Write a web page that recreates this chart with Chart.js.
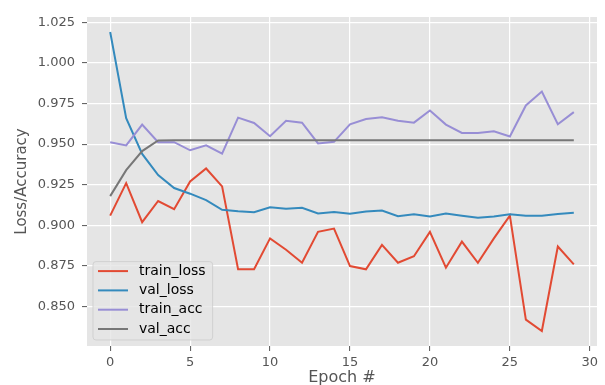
<!DOCTYPE html>
<html>
<head>
<meta charset="utf-8">
<script src="https://cdn.jsdelivr.net/npm/chart.js@4.4.1/dist/chart.umd.min.js"></script>
<style>
  html, body { margin: 0; padding: 0; background: #ffffff; }
  #wrap { width: 605px; height: 385px; position: relative; }
</style>
</head>
<body>
<div id="wrap"><canvas id="lossChart"></canvas></div>
<script>
// values
var epochs = [0, 1, 2, 3, 4, 5, 6, 7, 8, 9, 10, 11, 12, 13, 14, 15, 16, 17, 18, 19, 20, 21, 22, 23, 24, 25, 26, 27, 28, 29];
var trainLoss = [0.906, 0.926, 0.902, 0.915, 0.910, 0.927, 0.935, 0.924, 0.873, 0.873, 0.892, 0.885, 0.877, 0.896, 0.898, 0.875, 0.873, 0.888, 0.877, 0.881, 0.896, 0.874, 0.890, 0.877, 0.892, 0.906, 0.842, 0.835, 0.887, 0.876];
var valLoss = [1.019, 0.966, 0.944, 0.931, 0.923, 0.9195, 0.9155, 0.9096, 0.9087, 0.9081, 0.9112, 0.9102, 0.9108, 0.9073, 0.9083, 0.9071, 0.9085, 0.9091, 0.9057, 0.9069, 0.9055, 0.9073, 0.9059, 0.9047, 0.9055, 0.9069, 0.9059, 0.9059, 0.907, 0.9077];
var trainAcc = [0.9512, 0.9492, 0.962, 0.9512, 0.9512, 0.9462, 0.9492, 0.9441, 0.9663, 0.963, 0.9549, 0.9644, 0.9632, 0.9504, 0.9514, 0.9622, 0.9654, 0.9665, 0.9644, 0.9632, 0.9707, 0.962, 0.9569, 0.9569, 0.9579, 0.9547, 0.9738, 0.9823, 0.9622, 0.9697];
var valAcc = [0.918, 0.934, 0.9457, 0.9522, 0.9524, 0.9524, 0.9524, 0.9524, 0.9524, 0.9524, 0.9524, 0.9524, 0.9524, 0.9524, 0.9524, 0.9524, 0.9524, 0.9524, 0.9524, 0.9524, 0.9524, 0.9524, 0.9524, 0.9524, 0.9524, 0.9524, 0.9524, 0.9524, 0.9524, 0.9524];
var seriesNames = ["train_loss", "val_loss", "train_acc", "val_acc"];
var xTicks = [0, 5, 10, 15, 20, 25, 30];
var yTicks = [0.850, 0.875, 0.900, 0.925, 0.950, 0.975, 1.000, 1.025];

var FONT = "'DejaVu Sans', sans-serif";
var TEXT = "#555555";

function pts(vals) {
  return epochs.map(function (e, i) { return { x: e, y: vals[i] }; });
}

// matplotlib-like 5% margins
var allY = trainLoss.concat(valLoss, trainAcc, valAcc);
var yMin = Math.min.apply(null, allY), yMax = Math.max.apply(null, allY);
var yPad = (yMax - yMin) * 0.05;
var xPad = (epochs[epochs.length - 1] - epochs[0]) * 0.05;

var plotBg = {
  id: "plotBg",
  beforeDraw: function (chart) {
    var a = chart.chartArea, ctx = chart.ctx;
    ctx.save();
    ctx.fillStyle = "#e5e5e5";
    ctx.fillRect(a.left, a.top, a.right - a.left, a.bottom - a.top);
    ctx.restore();
  }
};

function roundRect(ctx, x, y, w, h, r) {
  ctx.beginPath();
  ctx.moveTo(x + r, y);
  ctx.lineTo(x + w - r, y);
  ctx.quadraticCurveTo(x + w, y, x + w, y + r);
  ctx.lineTo(x + w, y + h - r);
  ctx.quadraticCurveTo(x + w, y + h, x + w - r, y + h);
  ctx.lineTo(x + r, y + h);
  ctx.quadraticCurveTo(x, y + h, x, y + h - r);
  ctx.lineTo(x, y + r);
  ctx.quadraticCurveTo(x, y, x + r, y);
  ctx.closePath();
}

// legend box in the lower left corner of the plot, like plt.legend(loc="lower left")
var innerLegend = {
  id: "innerLegend",
  afterDatasetsDraw: function (chart) {
    var ctx = chart.ctx, a = chart.chartArea;
    var sets = chart.data.datasets;
    ctx.save();
    ctx.font = "14px " + FONT;
    var maxW = 0;
    sets.forEach(function (d) { maxW = Math.max(maxW, ctx.measureText(d.label).width); });
    var pad = 5, handle = 30, gap = 11, row = 19.3;
    var w = pad + handle + gap + maxW + 7;
    var h = 9.5 + row * (sets.length - 1) + 11;
    var x = a.left + 6, y = a.bottom - 6 - h;
    roundRect(ctx, x, y, w, h, 3);
    ctx.fillStyle = "rgba(229,229,229,0.8)";
    ctx.fill();
    ctx.strokeStyle = "rgba(204,204,204,0.8)";
    ctx.lineWidth = 1;
    ctx.stroke();
    ctx.textBaseline = "middle";
    ctx.textAlign = "left";
    sets.forEach(function (d, i) {
      var cy = y + 9.5 + i * row;
      ctx.strokeStyle = d.borderColor;
      ctx.lineWidth = 2;
      ctx.beginPath();
      ctx.moveTo(x + pad, cy);
      ctx.lineTo(x + pad + handle, cy);
      ctx.stroke();
      ctx.fillStyle = "#000000";
      ctx.fillText(d.label, x + pad + handle + gap, cy);
    });
    ctx.restore();
  }
};

var colors = ["#E24A33", "#348ABD", "#988ED5", "#777777"];
var series = [trainLoss, valLoss, trainAcc, valAcc];

var ctx = document.getElementById("lossChart").getContext("2d");
var lossChart = new Chart(ctx, {
  type: "line",
  data: {
    datasets: series.map(function (vals, i) {
      return {
        label: seriesNames[i],
        data: pts(vals),
        borderColor: colors[i],
        backgroundColor: colors[i],
        borderWidth: 2,
        pointRadius: 0,
        tension: 0,
        fill: false,
        order: series.length - i
      };
    })
  },
  options: {
    responsive: true,
    maintainAspectRatio: false,
    animation: false,
    layout: { padding: { left: 0, top: 17, right: 8, bottom: 0 } },
    plugins: {
      legend: { display: false },
      tooltip: { enabled: false }
    },
    scales: {
      x: {
        type: "linear",
        min: epochs[0] - xPad,
        max: epochs[epochs.length - 1] + xPad,
        afterBuildTicks: function (scale) {
          scale.ticks = xTicks.map(function (v) { return { value: v }; });
        },
        afterFit: function (scale) { scale.height = 39; },
        grid: { color: "#ffffff", lineWidth: 1.2, tickColor: TEXT, tickWidth: 1, tickLength: 5 },
        border: { display: false },
        ticks: {
          color: TEXT,
          font: { family: FONT, size: 13 },
          padding: 4,
          maxRotation: 0,
          callback: function (v) { return String(v); }
        },
        title: {
          display: true,
          text: "Epoch #",
          color: TEXT,
          font: { family: FONT, size: 16, lineHeight: 1 },
          padding: { top: 0, bottom: -1 }
        }
      },
      y: {
        min: yMin - yPad,
        max: yMax + yPad,
        afterBuildTicks: function (scale) {
          scale.ticks = yTicks.map(function (v) { return { value: v }; });
        },
        afterFit: function (scale) { scale.width = 87; },
        grid: { color: "#ffffff", lineWidth: 1.2, tickColor: TEXT, tickWidth: 1, tickLength: 5 },
        border: { display: false },
        ticks: {
          color: TEXT,
          font: { family: FONT, size: 13 },
          padding: 7,
          callback: function (v) { return v.toFixed(3); }
        },
        title: {
          display: true,
          text: "Loss/Accuracy",
          color: TEXT,
          font: { family: FONT, size: 15, lineHeight: 1.2 },
          padding: { top: 13, bottom: 0 }
        }
      }
    }
  },
  plugins: [plotBg, innerLegend]
});
</script>
</body>
</html>
